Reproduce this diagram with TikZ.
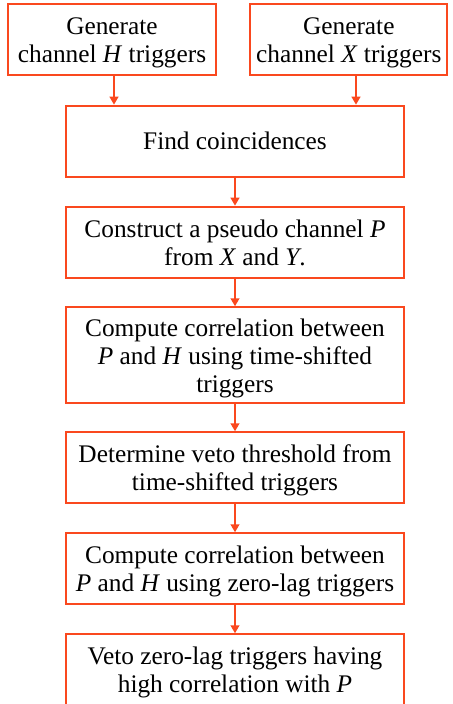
\documentclass[tikz,border=0pt]{standalone}
\usepackage{fontspec}
\setmainfont{Liberation Serif}
\usetikzlibrary{arrows.meta}
\definecolor{boxred}{RGB}{250,72,30}
\newcommand{\mlines}[1]{\raisebox{-2.5pt}[\height][\depth]{\begin{tabular}{@{}c@{}}#1\end{tabular}}}
\begin{document}
\begin{tikzpicture}[x=0.75pt,y=-0.75pt,
  stepbox/.style={draw=boxred,line width=1.5pt,rectangle,align=center,inner sep=0pt,
    font=\fontsize{19}{21}\selectfont,minimum height=53.25pt},
  wide/.style={stepbox,minimum width=253.5pt},
  arr/.style={draw=boxred,line width=1.5pt,-{Triangle[length=6pt,width=6.5pt]}}]
\useasboundingbox (0,0) rectangle (453,704);
\node[stepbox,minimum width=156pt] (h) at (112,39.8) {\mlines{Generate\\channel \textit{H} triggers}};
\node[stepbox,minimum width=147.5pt] (x) at (348.8,39.8) {\mlines{Generate\\channel \textit{X} triggers}};
\node[wide] (c) at (235,141.2) {Find coincidences};
\node[wide] (p) at (235,242.2) {\mlines{Construct a pseudo channel \textit{P}\\from \textit{X} and \textit{Y}.}};
\node[wide,minimum height=72pt] (ts) at (235,355.3) {\mlines{Compute correlation between\\\textit{P} and \textit{H} using time-shifted\\triggers}};
\node[wide] (th) at (235,467.8) {\mlines{Determine veto threshold from\\time-shifted triggers}};
\node[wide] (zl) at (235,568.8) {\mlines{Compute correlation between\\\textit{P} and \textit{H} using zero-lag triggers}};
\node[wide] (v) at (235,669.8) {\mlines{Veto zero-lag triggers having\\high correlation with \textit{P}}};
\draw[arr] (h.south -| 114,0) -- (c.north -| 114,0);
\draw[arr] (x.south -| 356,0) -- (c.north -| 356,0);
\draw[arr] (c) -- (p);
\draw[arr] (p) -- (ts);
\draw[arr] (ts) -- (th);
\draw[arr] (th) -- (zl);
\draw[arr] (zl) -- (v);
\end{tikzpicture}
\end{document}
